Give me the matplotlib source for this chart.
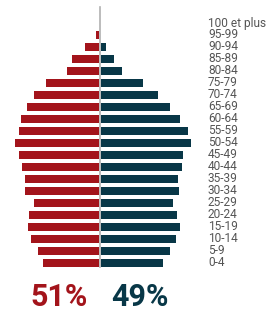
import matplotlib
matplotlib.use("Agg")
import matplotlib.pyplot as plt

age_groups = ["0-4", "5-9", "10-14", "15-19", "20-24", "25-29", "30-34", "35-39",
              "40-44", "45-49", "50-54", "55-59", "60-64", "65-69", "70-74", "75-79",
              "80-84", "85-89", "90-94", "95-99", "100 et plus"]
women = [56, 61, 68, 71, 70, 65, 74, 74, 77, 80, 84, 80, 78, 72, 65, 53, 32, 27, 14, 3.7, 0]
men = [62, 69, 75, 79, 76, 72, 78, 77, 81, 82, 90, 87, 79, 69, 57, 42, 21, 13, 5, 0, 0]
share_labels = ["51%", "49%"]

RED = "#a3141b"
TEAL = "#083747"

fig = plt.figure(figsize=(2.72, 3.14), dpi=100)
ax = fig.add_axes([0, 0, 1, 1])
ax.set_xlim(-100, 172)
ax.set_ylim(-4.25, 263 / 12)
ax.axis("off")

y = list(range(len(age_groups)))
ax.barh(y, [-w for w in women], height=0.667, color=RED, left=-0.6)
ax.barh(y, men, height=0.667, color=TEAL, left=0.8)
ax.plot([0, 0], [-0.333, 21.33], color="#b0b0b0", lw=1.2, zorder=3)

for yi, lab in zip(y, age_groups):
    ax.text(108, yi, lab, ha="left", va="center", fontsize=8.6,
            family="Roboto", color="#555555")

ax.text(-41, -2.85, share_labels[0], ha="center", va="center", fontsize=22,
        family="Roboto", fontweight="bold", color=RED)
ax.text(39.5, -2.85, share_labels[1], ha="center", va="center", fontsize=22,
        family="Roboto", fontweight="bold", color=TEAL)

fig.savefig("out.png", dpi=100)
